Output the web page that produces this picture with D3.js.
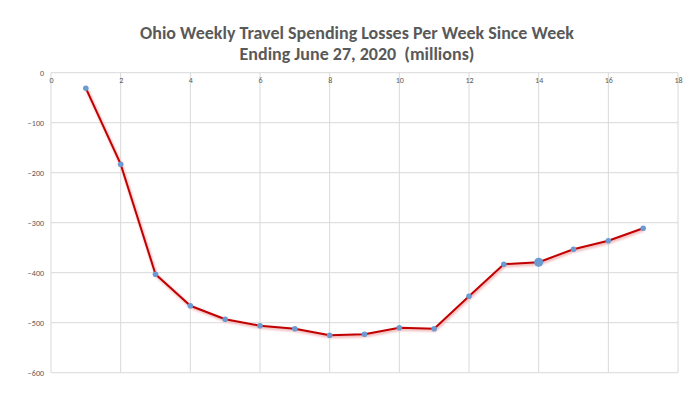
<!DOCTYPE html>
<html>
<meta charset="utf-8">
<head>
    <title>Ohio Weekly Travel Spending Losses</title>
    <script src="https://d3js.org/d3.v7.min.js"></script>
    <style>
    body { margin: 0; background: white; }
    text { font-family: Carlito, "Liberation Sans", "Open Sans", sans-serif; }
    .title { white-space: pre; }
    </style>
</head>
<body>
<script>

// Week number since week ending June 27, 2020
var weeks = [1, 2, 3, 4, 5, 6, 7, 8, 9, 10, 11, 12, 13, 14, 15, 16, 17];
// Spending losses per week (millions)
var losses = [-31, -183, -403, -466, -493, -506, -512, -525, -523, -510, -512, -447, -383, -379, -353, -336, -311];
// Highlighted week (drawn with a larger marker)
var highlightWeek = 14;

var xTicks = [0, 2, 4, 6, 8, 10, 12, 14, 16, 18];
var yTicks = [0, -100, -200, -300, -400, -500, -600];
var titleLines = ["Ohio Weekly Travel Spending Losses Per Week Since Week",
                  "Ending June 27, 2020  (millions)"];

var width = 700;
var height = 394;

var svg = d3.select("body")
    .append("svg")
    .attr("width", width)
    .attr("height", height);

// Scales
var x = d3.scaleLinear().domain([0, 18]).range([51, 678]);
var y = d3.scaleLinear().domain([-600, 0]).range([372.7, 72.7]);

// Title
svg.append("g")
    .selectAll("text")
    .data(titleLines)
    .enter()
    .append("text")
    .attr("class", "title")
    .attr("x", 357)
    .attr("y", function(d, i) { return 39 + i * 21; })
    .attr("text-anchor", "middle")
    .attr("font-size", 18)
    .attr("font-weight", "bold")
    .attr("fill", "#595959")
    .text(function(d) { return d; });

// Gridlines
var grid = svg.append("g");
grid.selectAll("line.v")
    .data(xTicks)
    .enter()
    .append("line")
    .attr("class", "v")
    .attr("x1", function(d) { return x(d); })
    .attr("x2", function(d) { return x(d); })
    .attr("y1", y(0))
    .attr("y2", y(-600))
    .attr("stroke", "#d9d9d9")
    .attr("stroke-width", 1);

grid.selectAll("line.h")
    .data(yTicks)
    .enter()
    .append("line")
    .attr("class", "h")
    .attr("x1", x(0))
    .attr("x2", x(18))
    .attr("y1", function(d) { return y(d); })
    .attr("y2", function(d) { return y(d); })
    .attr("stroke", "#d9d9d9")
    .attr("stroke-width", 1);

// Axes (labels only, Excel-like: x labels sit below the zero line)
var xAxis = svg.append("g")
    .attr("transform", "translate(0," + y(0) + ")")
    .call(d3.axisBottom(x).tickValues(xTicks).tickSize(0).tickPadding(5));
xAxis.select(".domain").remove();
xAxis.selectAll("text")
    .attr("fill", "#595959")
    .attr("font-size", 8)
    .style("font-family", "Carlito, 'Liberation Sans', sans-serif");

var yAxis = svg.append("g")
    .attr("transform", "translate(" + x(0) + ",0)")
    .call(d3.axisLeft(y).tickValues(yTicks).tickSize(0).tickPadding(7));
yAxis.select(".domain").remove();
yAxis.selectAll("text")
    .attr("fill", "#595959")
    .attr("font-size", 8)
    .style("font-family", "Carlito, 'Liberation Sans', sans-serif");

var data = weeks.map(function(w, i) { return { week: w, loss: losses[i] }; });

var line = d3.line()
    .x(function(d) { return x(d.week); })
    .y(function(d) { return y(d.loss); });

// Soft shadow under the line
var defs = svg.append("defs");
var filter = defs.append("filter").attr("id", "shadow")
    .attr("x", "-5%").attr("y", "-5%").attr("width", "110%").attr("height", "110%");
filter.append("feGaussianBlur").attr("stdDeviation", 1.2);

svg.append("path")
    .datum(data)
    .attr("fill", "none")
    .attr("stroke", "#f2b8b8")
    .attr("stroke-width", 3)
    .attr("filter", "url(#shadow)")
    .attr("transform", "translate(1,1.5)")
    .attr("d", line);

svg.append("path")
    .datum(data)
    .attr("fill", "none")
    .attr("stroke", "#c00000")
    .attr("stroke-width", 2)
    .attr("stroke-linejoin", "round")
    .attr("d", line);

// Markers
svg.append("g")
    .selectAll("circle")
    .data(data)
    .enter()
    .append("circle")
    .attr("cx", function(d) { return x(d.week); })
    .attr("cy", function(d) { return y(d.loss); })
    .attr("r", function(d) { return d.week === highlightWeek ? 4.5 : 2.8; })
    .attr("fill", "#6b9bd1");

</script>
</body>
</html>
